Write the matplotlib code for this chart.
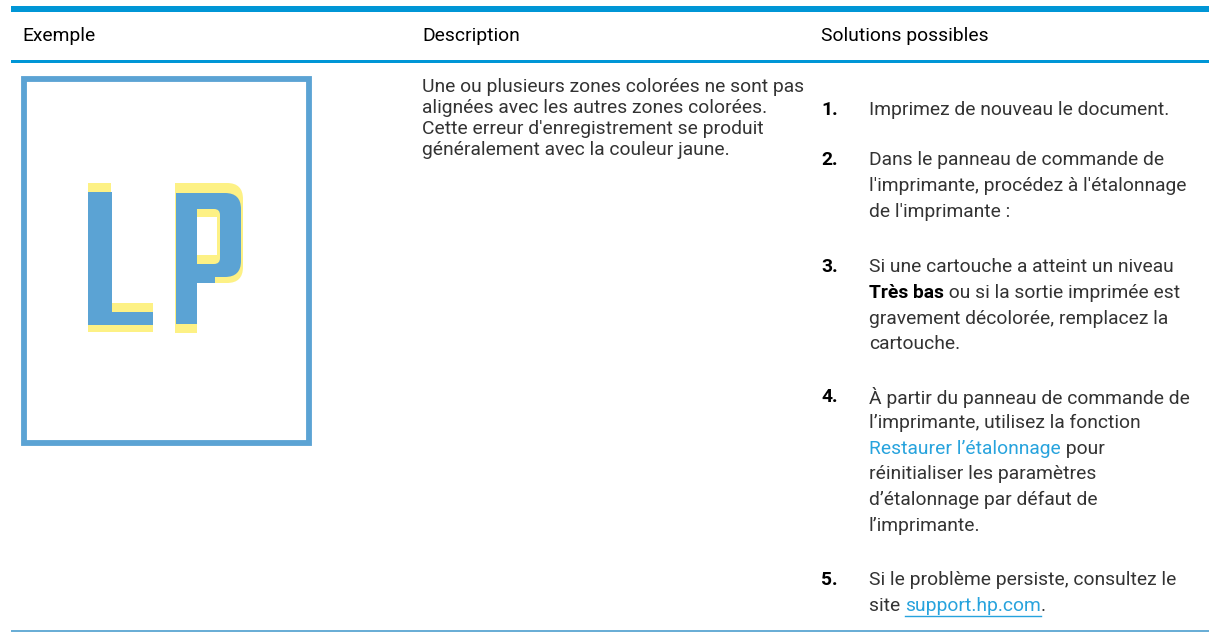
import matplotlib
matplotlib.use("Agg")
import matplotlib.pyplot as plt
from matplotlib.patches import Rectangle, FancyBboxPatch

W, H = 1209, 632

headers = ["Exemple", "Description", "Solutions possibles"]
header_x = [22, 422, 821]

description = [
    "Une ou plusieurs zones colorées ne sont pas",
    "alignées avec les autres zones colorées.",
    "Cette erreur d'enregistrement se produit",
    "généralement avec la couleur jaune.",
]

# each item: number, list of lines, each line a list of (text, style) runs
solutions = [
    ("1.", [[("Imprimez de nouveau le document.", "n")]]),
    ("2.", [[("Dans le panneau de commande de", "n")],
            [("l'imprimante, procédez à l'étalonnage", "n")],
            [("de l'imprimante :", "n")]]),
    ("3.", [[("Si une cartouche a atteint un niveau", "n")],
            [("Très bas", "b"), (" ou si la sortie imprimée est", "n")],
            [("gravement décolorée, remplacez la", "n")],
            [("cartouche.", "n")]]),
    ("4.", [[("À partir du panneau de commande de", "n")],
            [("l’imprimante, utilisez la fonction", "n")],
            [("Restaurer l’étalonnage", "l"), (" pour", "n")],
            [("réinitialiser les paramètres", "n")],
            [("d’étalonnage par défaut de", "n")],
            [("l’imprimante.", "n")]]),
    ("5.", [[("Si le problème persiste, consultez le", "n")],
            [("site ", "n"), ("support.hp.com", "u"), (".", "n")]]),
]
item_y = [110, 160, 267, 397, 580]

HP_BLUE = "#0096d6"
BOX_BLUE = "#5ba3d4"
YELLOW = "#fdf185"
LINK = "#27a3dd"
TEXT = "#333333"
FONT = "Roboto"
FS = 13.9

fig = plt.figure(figsize=(W / 100, H / 100), dpi=100)
ax = fig.add_axes([0, 0, 1, 1])
ax.set_xlim(0, W)
ax.set_ylim(H, 0)
ax.axis("off")

# table rules
ax.add_patch(Rectangle((11, 6), W - 11, 6, color=HP_BLUE, lw=0))
ax.add_patch(Rectangle((11, 60), W - 11, 3, color=HP_BLUE, lw=0))
ax.add_patch(Rectangle((11, 630), W - 11, 2, color="#6aaed6", lw=0))

for x, h in zip(header_x, headers):
    ax.text(x, 36, h, fontsize=FS, family=FONT, color="black", va="center")

for i, line in enumerate(description):
    ax.text(422, 87 + i * 21, line, fontsize=FS, family=FONT,
            color=TEXT, va="center")

# example picture: page frame with misregistered "LP"
ax.add_patch(Rectangle((24, 79), 285, 364, fill=False, ec=BOX_BLUE, lw=4.2))


def rect(x0, y0, x1, y1, c):
    ax.add_patch(Rectangle((x0, y0), x1 - x0, y1 - y0, color=c, lw=0))


def rbox(x0, y0, x1, y1, r, c):
    ax.add_patch(FancyBboxPatch((x0, y0), x1 - x0, y1 - y0,
                                boxstyle=f"round,pad=0,rounding_size={r}",
                                color=c, lw=0, mutation_aspect=1))


# L (yellow shadow, then blue)
rect(88, 183, 111, 332, YELLOW)
rect(88, 303, 153, 332, YELLOW)
rect(88, 192, 112, 325, BOX_BLUE)
rect(88, 312, 153, 325, BOX_BLUE)

# P (yellow shadow)
rect(175, 183, 197, 333, YELLOW)
rect(175, 183, 215, 283, YELLOW)
rbox(190, 183, 243, 283, 16, YELLOW)
# P (blue)
rect(176, 193, 197, 324, BOX_BLUE)
rect(176, 193, 215, 283, BOX_BLUE)
rbox(190, 193, 241, 277, 16, BOX_BLUE)
rect(197, 277, 215, 283, BOX_BLUE)
# counter
rbox(190, 209, 220, 264, 6, YELLOW)
rect(190, 209, 205, 264, YELLOW)
rect(197, 217, 217, 255, "white")
rect(176, 209, 197, 264, BOX_BLUE)

fig.canvas.draw()
renderer = fig.canvas.get_renderer()

styles = {
    "n": dict(color=TEXT),
    "b": dict(weight="bold", color="black"),
    "l": dict(color=LINK),
    "u": dict(color=LINK),
}

for (num, lines), y0 in zip(solutions, item_y):
    ax.text(821, y0, num, fontsize=FS, family=FONT, weight="bold",
            color="black", va="center")
    for j, runs in enumerate(lines):
        y = y0 + j * 25.8
        x = 869
        for txt, st in runs:
            t = ax.text(x, y, txt, fontsize=FS, family=FONT, va="center",
                        **styles[st])
            bb = t.get_window_extent(renderer)
            if st == "u":
                ax.plot([x, x + bb.width], [y + 10, y + 10], color=LINK, lw=1)
            x += bb.width

fig.savefig("out.png", dpi=100)
